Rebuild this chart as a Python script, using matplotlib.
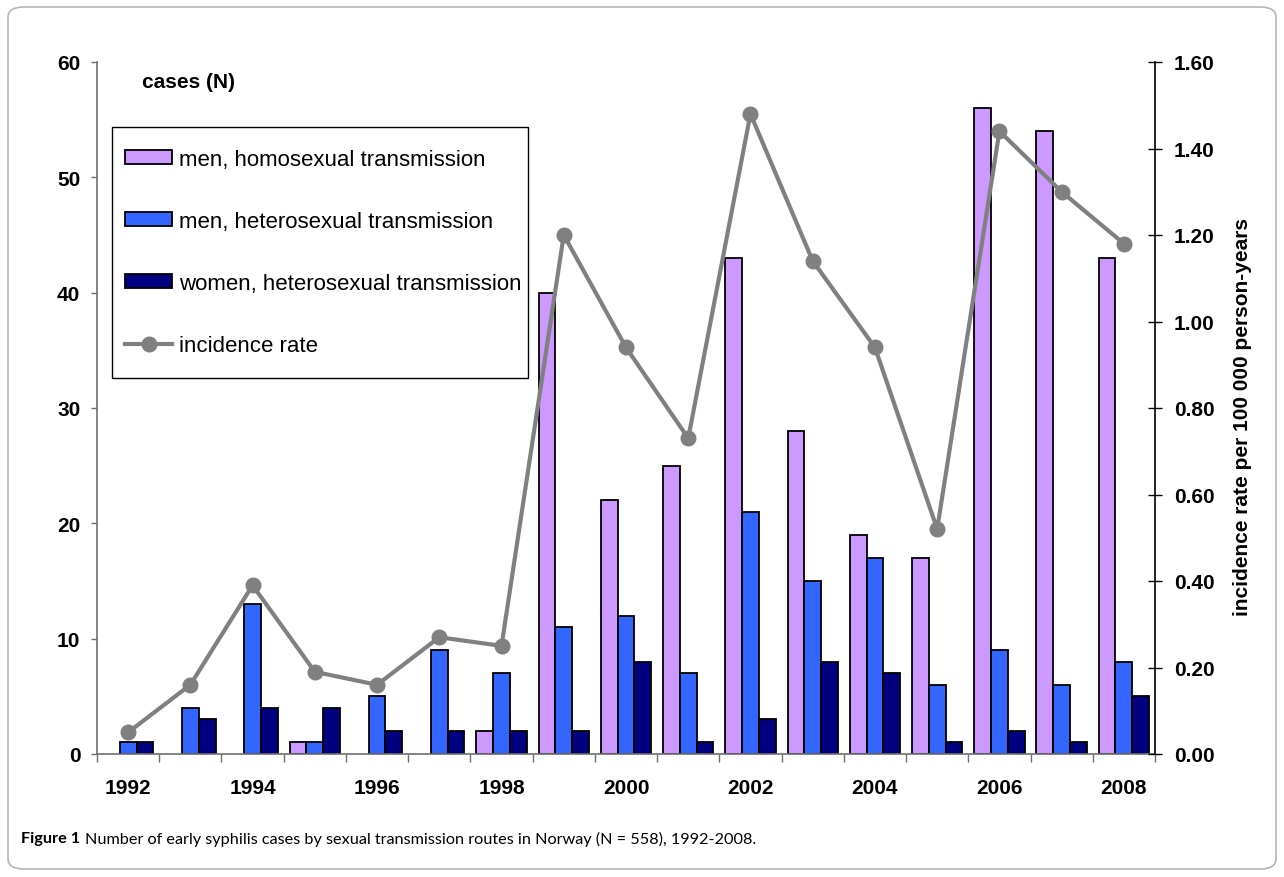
import matplotlib
matplotlib.use("Agg")
import matplotlib.pyplot as plt
import numpy as np
from matplotlib.patches import Patch, FancyBboxPatch, Rectangle
from matplotlib.lines import Line2D

years = list(range(1992, 2009))
men_homo = [0, 0, 0, 1, 0, 0, 2, 40, 22, 25, 43, 28, 19, 17, 56, 54, 43]
men_hetero = [1, 4, 13, 1, 5, 9, 7, 11, 12, 7, 21, 15, 17, 6, 9, 6, 8]
women_hetero = [1, 3, 4, 4, 2, 2, 2, 2, 8, 1, 3, 8, 7, 1, 2, 1, 5]
incidence = [0.05, 0.16, 0.39, 0.19, 0.16, 0.27, 0.25, 1.20, 0.94, 0.73,
             1.48, 1.14, 0.94, 0.52, 1.44, 1.30, 1.18]
series_labels = ["men, homosexual transmission", "men, heterosexual transmission",
                 "women, heterosexual transmission", "incidence rate"]
colors = ["#CC99FF", "#3366FF", "#000080"]
line_color = "#808080"
caption_bold = "Figure 1"
caption_text = "Number of early syphilis cases by sexual transmission routes in Norway (N = 558), 1992-2008."

plt.rcParams['font.family'] = ['Liberation Sans', 'DejaVu Sans']

W, H = 1284, 878
fig = plt.figure(figsize=(W / 100, H / 100), dpi=100)

def fx(px):
    return px / W

def fy(py):
    return (H - py) / H

# outer rounded frame
frame = FancyBboxPatch((fx(8), fy(870)), (W - 16) / W, (H - 16) / H,
                       boxstyle="round,pad=0,rounding_size=0.012",
                       transform=fig.transFigure, facecolor="none",
                       edgecolor="#b5b5b5", linewidth=1.2)
fig.patches.append(frame)

l, r, b, t = 97, 1155, 755, 63
ax = fig.add_axes([fx(l), fy(b), (r - l) / W, (b - t) / H])
ax2 = ax.twinx()

x = np.arange(len(years))
bw = 0.27
for i, (vals, c) in enumerate(zip([men_homo, men_hetero, women_hetero], colors)):
    lws = [1.3 if v > 0 else 0 for v in vals]
    ax.bar(x + (i - 1) * bw, vals, width=bw, color=c, edgecolor="black",
           linewidth=lws, zorder=2)

ax2.plot(x, incidence, color=line_color, linewidth=3, marker="o",
         markersize=10.5, zorder=3)

ax.set_xlim(-0.5, len(years) - 0.5)
ax.set_ylim(0, 60)
ax2.set_ylim(0, 1.6)
ax.set_yticks(np.arange(0, 61, 10))
ax2.set_yticks(np.arange(0, 1.61, 0.2))
ax2.set_yticklabels([f"{v:.2f}" for v in np.arange(0, 1.61, 0.2)])

ax.set_xticks(np.arange(-0.5, len(years), 1.0))
ax.set_xticklabels([])
ax.set_xticks(x[::2], minor=True)
ax.set_xticklabels([str(y) for y in years[::2]], minor=True)
ax.tick_params(axis="x", which="major", length=5.5, width=1, color="#707070", direction="out")
ax.tick_params(axis="x", which="minor", length=0, pad=17, labelsize=15)
ax.tick_params(axis="y", length=4, width=1, color="#707070", pad=8, labelsize=15)
ax2.tick_params(axis="y", length=9.5, width=1, color="black", direction="inout",
                pad=9, labelsize=15)
for lab in ax.get_xticklabels(minor=True) + ax.get_yticklabels() + ax2.get_yticklabels():
    lab.set_fontweight("bold")

for sp in ["top", "right"]:
    ax.spines[sp].set_visible(False)
for sp in ["top", "left", "bottom"]:
    ax2.spines[sp].set_visible(False)
ax.spines["left"].set_color("#707070")
ax.spines["bottom"].set_color("#707070")
ax.spines["left"].set_linewidth(1.2)
ax.spines["bottom"].set_linewidth(1.2)
ax2.spines["right"].set_color("black")
ax2.spines["right"].set_linewidth(1.2)

fig.text(fx(1243), fy(417), "incidence rate per 100 000 person-years", fontsize=15,
         fontweight="bold", rotation=90, va="center", ha="center")

fig.text(fx(142), fy(82), "cases (N)", fontsize=15, fontweight="bold",
         va="center", ha="left")

# legend frame and entries
fig.patches.append(Rectangle((fx(112), fy(379)), (528 - 112) / W, (379 - 128) / H,
                             transform=fig.transFigure, facecolor="white",
                             edgecolor="black", linewidth=1.0, zorder=4))
handles = [Patch(facecolor=c, edgecolor="black", linewidth=1.3) for c in colors]
handles.append(Line2D([], [], color=line_color, linewidth=3, marker="o", markersize=10.5))
leg = fig.legend(handles, series_labels, loc="upper left",
                 bbox_to_anchor=(fx(125), fy(150)), bbox_transform=fig.transFigure,
                 fontsize=16, frameon=False, handlelength=2.12, handleheight=0.59,
                 handletextpad=0.32, labelspacing=1.85, borderpad=0, borderaxespad=0)
leg.set_zorder(5)

# caption
fig.canvas.draw()
renderer = fig.canvas.get_renderer()
cap_y = fy(839)
t1 = fig.text(fx(21), cap_y, caption_bold, fontsize=11.7, fontweight="bold",
              family="Lato", va="center", ha="left")
bb = t1.get_window_extent(renderer)
space_px = 5
t2 = fig.text((bb.x1 + space_px) / W, cap_y, caption_text, fontsize=11.7,
              family="Lato", va="center", ha="left")

fig.savefig("out.png", dpi=100)
